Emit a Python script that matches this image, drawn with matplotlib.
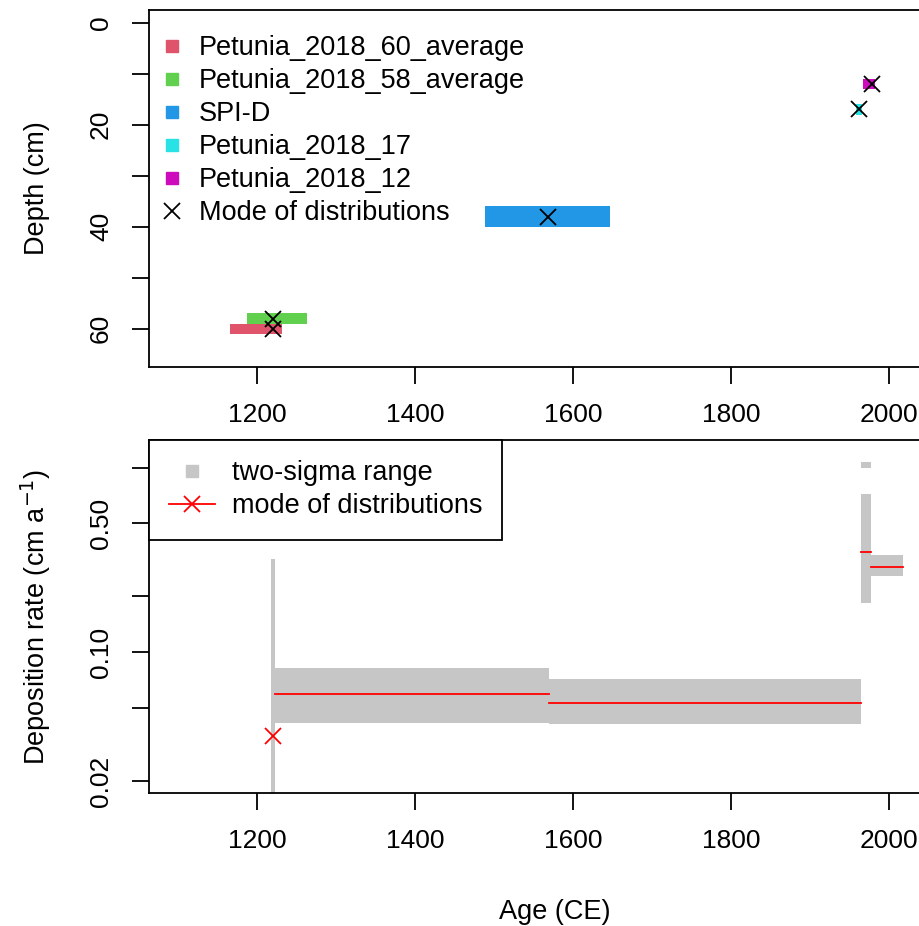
import numpy as np
import matplotlib
matplotlib.use("Agg")
import matplotlib.pyplot as plt
from matplotlib.lines import Line2D
from matplotlib.patches import Rectangle

plt.rcParams['font.family'] = ['Liberation Sans', 'DejaVu Sans']

# ---- top panel data: age ranges and depth slices of each sample ----
samples = ["Petunia_2018_60_average", "Petunia_2018_58_average", "SPI-D",
           "Petunia_2018_17", "Petunia_2018_12"]
colors = ["#DF536B", "#61D04F", "#2297E6", "#28E2E5", "#CD0BBC"]
age_lo = [1165, 1187, 1489, 1958, 1967]
age_hi = [1231, 1263, 1647, 1966, 1982]
depth_top = [59, 57, 36, 16, 11]
depth_bot = [61, 59, 40, 18, 13]
mode_age = [1220, 1220, 1568, 1962, 1978]
mode_depth = [60, 58, 38, 17, 12]

# ---- bottom panel data: deposition rates between modes ----
seg_start = [1218, 1222, 1570, 1965, 1977]
seg_end = [1222, 1570, 1965, 1977, 2018]
rate_lo = [0.015, 0.0412, 0.0407, 0.185, 0.258]
rate_hi = [0.319, 0.0819, 0.0714, 0.718, 0.336]
rate_mode = [0.035, 0.0592, 0.0530, 0.348, 0.289]
# small detached piece of the range above segment 4
extra_start, extra_end = 1965, 1977
extra_lo, extra_hi = 1.0, 1.07

gray = "#C6C6C6"
fs = 19.5
tfs = 19

fig = plt.figure(figsize=(9.2, 9.26), dpi=100)

# ================= top panel =================
ax1 = fig.add_axes([0.162, 0.6037, 0.8815, 0.3855])
for i in range(len(samples)):
    ax1.add_patch(Rectangle((age_lo[i], depth_top[i]), age_hi[i] - age_lo[i],
                            depth_bot[i] - depth_top[i], color=colors[i], lw=0))
ax1.plot(mode_age, mode_depth, ls="none", marker="x", color="black",
         markersize=11, mew=1.3)
ax1.set_xlim(1063, 2090)
ax1.set_ylim(67.5, -2.5)
ax1.set_xticks([1200, 1400, 1600, 1800, 2000])
ax1.set_yticks(np.arange(0, 70, 10))
ax1.set_yticklabels(["0", "", "20", "", "40", "", "60"], rotation=90, va="center")
ax1.set_ylabel("Depth (cm)", fontsize=fs, labelpad=28)

handles = [Line2D([], [], ls="none", marker="s", color=c, markersize=9) for c in colors]
handles.append(Line2D([], [], ls="none", marker="x", color="black", markersize=11, mew=1.3))
ax1.legend(handles, samples + ["Mode of distributions"], loc="upper left",
           bbox_to_anchor=(-0.005, 0.96), frameon=False, fontsize=fs,
           labelspacing=0.26, handletextpad=0.4, borderaxespad=0, handlelength=1.2)

# ================= bottom panel =================
ax2 = fig.add_axes([0.162, 0.1436, 0.8815, 0.3812])
for i in range(len(seg_start)):
    ax2.fill_between([seg_start[i], seg_end[i]], rate_lo[i], rate_hi[i],
                     color=gray, lw=0)
ax2.fill_between([extra_start, extra_end], extra_lo, extra_hi, color=gray, lw=0)
for i in range(1, len(seg_start)):
    ax2.plot([seg_start[i], seg_end[i]], [rate_mode[i], rate_mode[i]],
             color="red", lw=1.3)
ax2.plot(seg_start[0] + 2, rate_mode[0], ls="none", marker="x", color="red",
         markersize=11, mew=1.3)
ax2.set_yscale("log")
ax2.set_xlim(1063, 2090)
ax2.set_ylim(0.0172, 1.41)
ax2.set_xticks([1200, 1400, 1600, 1800, 2000])
ax2.set_yticks([0.02, 0.05, 0.1, 0.2, 0.5, 1.0])
ax2.set_yticklabels(["0.02", "", "0.10", "", "0.50", ""], rotation=90, va="center")
ax2.minorticks_off()
ax2.set_ylabel("Deposition rate (cm a$^{-1}$)", fontsize=fs, labelpad=26)
ax2.set_xlabel("Age (CE)", fontsize=fs, labelpad=33)

h2 = [Line2D([], [], ls="none", marker="s", color=gray, markersize=9),
      Line2D([], [], color="red", lw=1.3, marker="x", markersize=11, mew=1.3)]
leg = ax2.legend(h2, ["two-sigma range", "mode of distributions"], loc="upper left",
                 frameon=True, fancybox=False, fontsize=fs, edgecolor="black",
                 framealpha=1, borderaxespad=0, labelspacing=0.26,
                 handlelength=1.7, handletextpad=0.6, borderpad=0.75)
leg.get_frame().set_linewidth(1.3)

for ax in (ax1, ax2):
    for sp in ax.spines.values():
        sp.set_linewidth(1.3)
    ax.tick_params(labelsize=tfs, length=12, width=1.3, pad=14)

fig.savefig("out.png", dpi=100)
